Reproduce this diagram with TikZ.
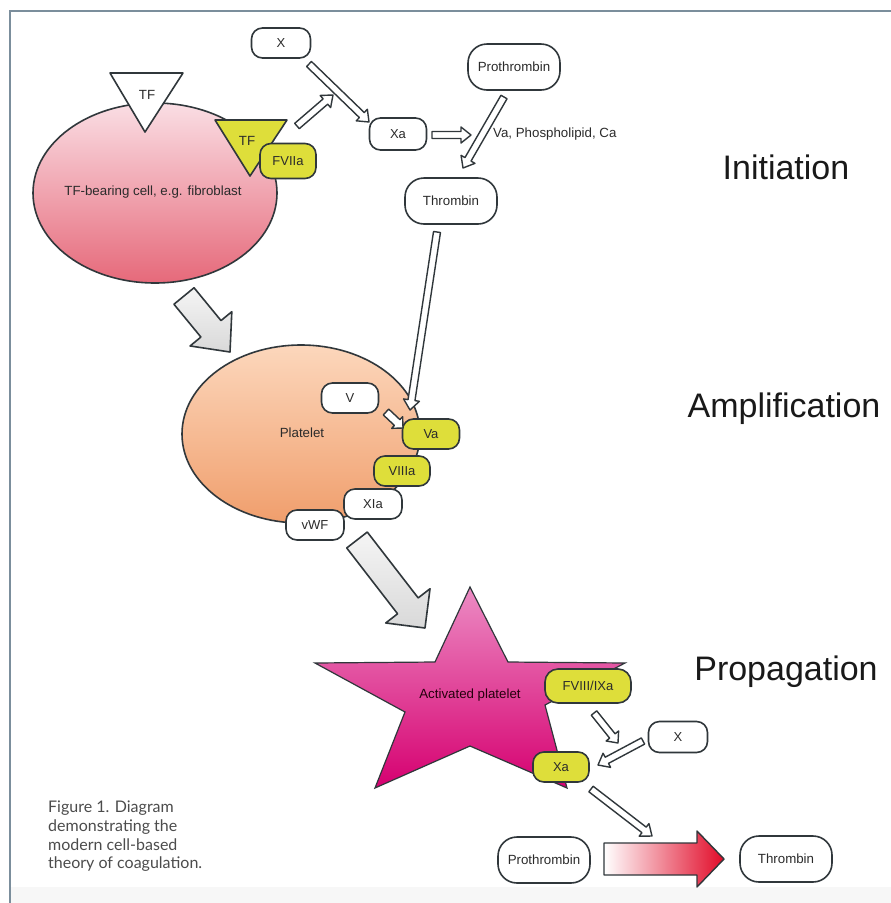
\documentclass[tikz,border=0pt]{standalone}
\usepackage{fontspec}
\setmainfont{Liberation Sans}
\newfontfamily\capfont{Lato}
\usetikzlibrary{shapes.geometric,calc}
\definecolor{dk}{HTML}{30373B}
\definecolor{yel}{HTML}{DEDE3A}
\definecolor{framec}{HTML}{7B8E9C}
\definecolor{txt}{HTML}{2B2B2B}
% #1 style, #2 from, #3 to, #4 shaft half width, #5 head half width, #6 head length
\newcommand\blockarrow[6][]{%
  \coordinate (hab) at ($(#3)!#6!(#2)$);
  \draw[#1] ($(#2)!#4!90:(#3)$) -- ($(hab)!#4!90:(#3)$) -- ($(hab)!#5!90:(#3)$) -- (#3)
    -- ($(hab)!#5!-90:(#3)$) -- ($(hab)!#4!-90:(#3)$) -- ($(#2)!#4!-90:(#3)$) -- cycle;
}
\begin{document}
\begin{tikzpicture}[x=1pt,y=-1pt,
  pill/.style={draw=dk, line width=1.6pt, rounded corners=11pt, minimum width=58pt, minimum height=30pt, fill=white, text=txt, font=\fontsize{13}{13}\selectfont, inner sep=1pt},
  bigpill/.style={pill, minimum width=92pt, minimum height=46pt, rounded corners=19pt, font=\fontsize{13.3}{13.3}\selectfont},
  ypill/.style={pill, fill=yel},
  thin/.style={draw=dk, line width=1.4pt, fill=white, line join=round},
  grey/.style={draw=dk, line width=1.6pt, top color=gray!8, bottom color=gray!30, line join=round},
  lbl/.style={text=txt, font=\fontsize{13.3}{13.3}\selectfont, inner sep=0pt},
  stage/.style={text=black!90, font=\fontsize{34}{34}\selectfont, inner sep=0pt}]
\useasboundingbox (0,0) rectangle (891,903);
\fill[white] (0,0) rectangle (891,903);
\fill[gray!6] (10,887) rectangle (891,903);
\draw[framec, line width=2.5pt] (10,903) -- (10,11) -- (891,11);

% ---------- Initiation ----------
\node[ellipse, draw=dk, line width=1.6pt, top color={rgb,255:red,250;green,222;blue,228}, bottom color={rgb,255:red,230;green,105;blue,122}, minimum width=244pt, minimum height=180pt, inner sep=0pt] (cell) at (155,193) {};
\node[lbl] at (153,192) {TF-bearing cell, e.g. fibroblast};
\draw[draw=dk, line width=1.6pt, fill=white, line join=round] (110,73) -- (183,73) -- (145,132) -- cycle;
\node[lbl] (tf1) at (147,95) {TF};
\draw[draw=dk, line width=1.6pt, fill=yel, line join=round] (215,120) -- (287,120) -- (250,176) -- cycle;
\node[lbl] (tf2) at (247,141) {TF};
\node[ypill, minimum width=56pt, minimum height=35pt] (f7) at (288,161) {FVIIa};

\node[pill, minimum width=59pt] (X1) at (281,43) {X};
\node[pill, minimum width=57pt, minimum height=32pt] (Xa1) at (398,134) {Xa};
\node[bigpill] (Pro1) at (514,67) {Prothrombin};
\node[bigpill] (Thr1) at (451,201) {Thrombin};
\node[lbl, anchor=west] (cof) at (493,134) {Va, Phospholipid, Ca};

\coordinate (a1s) at (309,64);  \coordinate (a1e) at (369,122);
\coordinate (a2s) at (297,126); \coordinate (a2e) at (333,95);
\coordinate (a3s) at (432,135); \coordinate (a3e) at (471,135);
\coordinate (a4s) at (504,97);  \coordinate (a4e) at (463,168);
\blockarrow[thin]{a1s}{a1e}{3.5pt}{8pt}{10pt}
\blockarrow[thin]{a2s}{a2e}{3.5pt}{8pt}{10pt}
\blockarrow[thin]{a3s}{a3e}{3.5pt}{8pt}{10pt}
\blockarrow[thin]{a4s}{a4e}{3.5pt}{8pt}{10pt}

\node[stage] at (786,167) {Initiation};

% ---------- Amplification ----------
\coordinate (g1s) at (184,296); \coordinate (g1e) at (230,352);
\blockarrow[grey]{g1s}{g1e}{13pt}{27pt}{30pt}

\node[ellipse, draw=dk, line width=1.6pt, top color={rgb,255:red,252;green,215;blue,188}, bottom color={rgb,255:red,240;green,158;blue,108}, minimum width=238pt, minimum height=178pt, inner sep=0pt] (plt) at (301,434) {};
\node[lbl] at (302,433) {Platelet};
\node[pill, minimum width=57pt] (V) at (350,398) {V};
\node[ypill, minimum width=57pt] (Va) at (431,434) {Va};
\node[ypill, minimum width=56pt] (VIIIa) at (402,471) {VIIIa};
\node[pill, minimum width=58pt] (XIa) at (373,504) {XIa};
\node[pill, minimum width=58pt] (vWF) at (315,525) {vWF};

\coordinate (a5s) at (437,232); \coordinate (a5e) at (410,410);
\coordinate (a6s) at (386,412); \coordinate (a6e) at (403,428);
\blockarrow[thin]{a5s}{a5e}{3.5pt}{8pt}{10pt}
\blockarrow[thin]{a6s}{a6e}{4pt}{8pt}{8pt}

\node[stage] at (784,409) {Amplification};

% ---------- Propagation ----------
\coordinate (g2s) at (357,540); \coordinate (g2e) at (425,628);
\blockarrow[grey]{g2s}{g2e}{13pt}{28pt}{28pt}

\draw[draw=dk, line width=1.2pt, top color={rgb,255:red,236;green,140;blue,196}, bottom color={rgb,255:red,214;green,0;blue,112}, line join=miter]
  (470,587) -- (508,662) -- (625,663) -- (545,705) -- (567,788) -- (470,746)
  -- (375,788) -- (405,712) -- (315,663) -- (435,662) -- cycle;
\node[lbl, text=black!80!purple] (ap) at (470,695) {Activated platelet};
\node[ypill, minimum width=86pt, minimum height=34pt, rounded corners=13pt] (F89) at (588,686) {FVIII/IXa};
\node[ypill, minimum width=56pt] (Xa2) at (561,767) {Xa};
\node[pill, minimum width=59pt, minimum height=31pt] (X2) at (678,737) {X};

\coordinate (a7s) at (594,713); \coordinate (a7e) at (618,743);
\coordinate (a8s) at (643,741); \coordinate (a8e) at (598,765);
\coordinate (a9s) at (591,789); \coordinate (a9e) at (652,836);
\blockarrow[thin]{a7s}{a7e}{3.5pt}{8pt}{9pt}
\blockarrow[thin]{a8s}{a8e}{3.5pt}{8pt}{10pt}
\blockarrow[thin]{a9s}{a9e}{3.5pt}{8pt}{10pt}

\node[bigpill] (Pro2) at (544,860) {Prothrombin};
\node[bigpill] (Thr2) at (786,859) {Thrombin};
\coordinate (r1s) at (604,859); \coordinate (r1e) at (724,859);
\blockarrow[draw=dk, line width=1.4pt, left color=white, right color={rgb,255:red,225;green,10;blue,40}, line join=round]{r1s}{r1e}{16pt}{28pt}{27pt}

\node[stage] at (786,672) {Propagation};

% ---------- caption ----------
\node[anchor=north west, align=left, inner sep=0pt, text=black!70, font=\capfont\fontsize{16}{18.6}\selectfont] (cap) at (48,801)
  {Figure 1. Diagram\\demonstrating the\\modern cell-based\\theory of coagulation.};
\end{tikzpicture}
\end{document}
